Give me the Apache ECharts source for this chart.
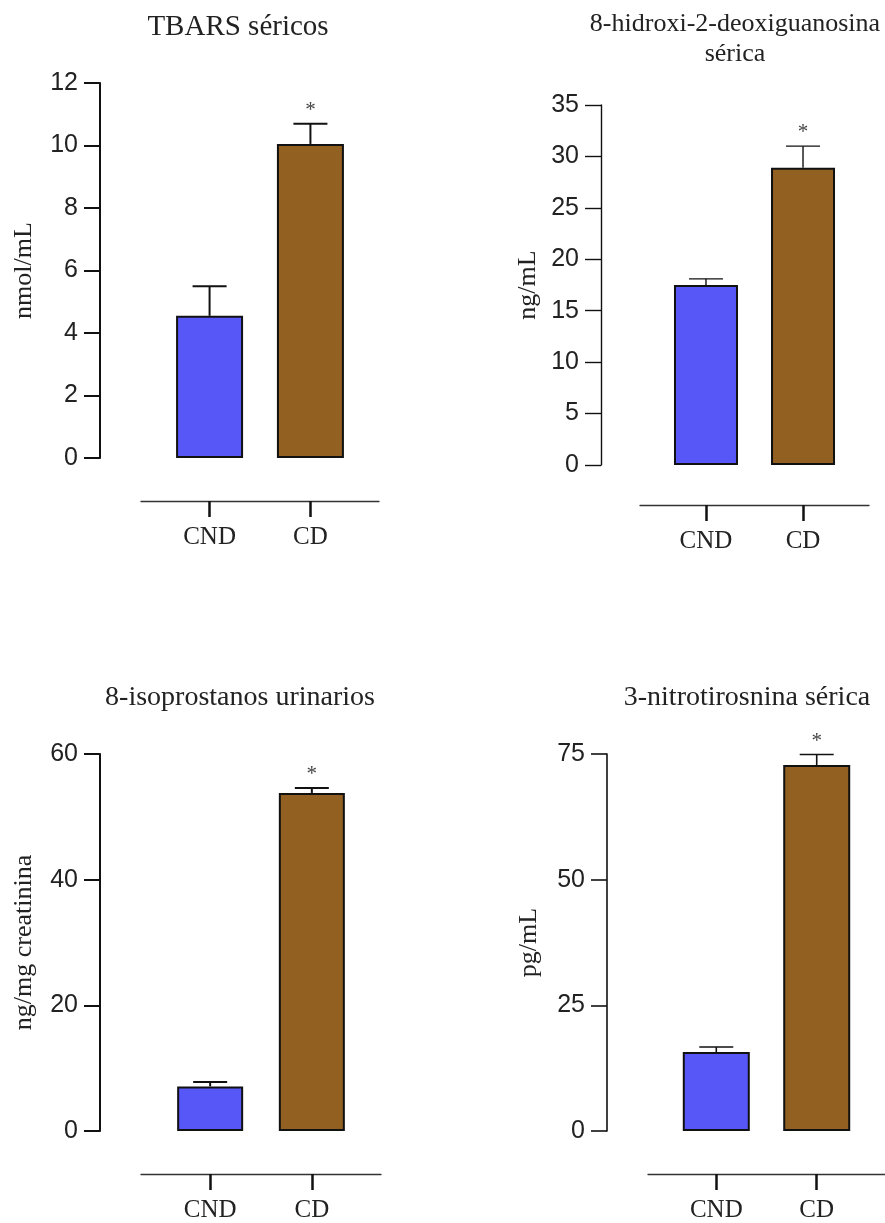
<!DOCTYPE html>
<html>
<head>
<meta charset="utf-8">
<title>Marcadores de estrés oxidativo</title>
<script src="https://cdn.jsdelivr.net/npm/echarts@6/dist/echarts.min.js"></script>
<style>
  html, body { margin: 0; padding: 0; background: #ffffff; }
  #chart { width: 885px; height: 1223px; }
</style>
</head>
<body>
<div id="chart"></div>
<script>
// Groups compared in every panel
const categories = ['CND', 'CD'];
const barColors = ['#5757F8', '#926020'];
// Which group carries the significance asterisk
const significant = [false, true];

// Serum TBARS (nmol/mL): mean and SEM
const tbarsMean = [4.55, 10.05];
const tbarsSem = [0.95, 0.65];

// Serum 8-hydroxy-2-deoxyguanosine (ng/mL)
const ohdgMean = [17.5, 28.9];
const ohdgSem = [0.6, 2.1];

// Urinary 8-isoprostanes (ng/mg creatinine)
const isoMean = [7.1, 53.8];
const isoSem = [0.7, 0.8];

// Serum 3-nitrotyrosine (pg/mL)
const ntyrMean = [15.7, 72.8];
const ntyrSem = [1.0, 2.1];

// Y-axis ranges: [max, interval]
const tbarsTicks = [12, 2];
const ohdgTicks = [35, 5];
const isoTicks = [60, 20];
const ntyrTicks = [75, 25];

const SERIF = '"Liberation Serif", "Times New Roman", serif';
const SANS = '"Liberation Sans", Arial, sans-serif';

const panels = [
  { title: 'TBARS séricos', titleSize: 29, titleX: 238, titleTop: 12,
    unit: 'nmol/mL', mean: tbarsMean, sem: tbarsSem, ticks: tbarsTicks,
    left: 141, top: 83, width: 238, height: 375, yOffset: 41, xOffset: 43,
    nameGap: 63, axisWidth: 2, barWidth: 67 },
  { title: '8-hidroxi-2-deoxiguanosina\nsérica', titleSize: 26, titleX: 735, titleTop: 9,
    unit: 'ng/mL', mean: ohdgMean, sem: ohdgSem, ticks: ohdgTicks,
    left: 640, top: 105, width: 229, height: 360, yOffset: 39, xOffset: 40,
    nameGap: 60, axisWidth: 1.4, barWidth: 64 },
  { title: '8-isoprostanos urinarios', titleSize: 28, titleX: 240, titleTop: 683,
    unit: 'ng/mg creatinina', mean: isoMean, sem: isoSem, ticks: isoTicks,
    left: 141, top: 754, width: 240, height: 378, yOffset: 41, xOffset: 43,
    nameGap: 63, axisWidth: 2, barWidth: 66 },
  { title: '3-nitrotirosnina sérica', titleSize: 28, titleX: 747, titleTop: 683,
    unit: 'pg/mL', mean: ntyrMean, sem: ntyrSem, ticks: ntyrTicks,
    left: 648, top: 754, width: 243, height: 378, yOffset: 41, xOffset: 43,
    nameGap: 65, axisWidth: 1.6, barWidth: 67 }
];

const option = {
  backgroundColor: '#ffffff',
  animation: false,
  title: [], grid: [], xAxis: [], yAxis: [], series: []
};

panels.forEach((p, i) => {
  option.title.push({
    text: p.title,
    left: p.titleX,
    top: p.titleTop,
    padding: 0,
    textAlign: 'center',
    textStyle: { fontFamily: SERIF, fontWeight: 'normal', fontSize: p.titleSize,
                 color: '#222', lineHeight: 30 }
  });

  option.grid.push({ left: p.left, top: p.top, width: p.width, height: p.height, containLabel: false });

  option.xAxis.push({
    gridIndex: i,
    type: 'value',
    min: -0.68,
    max: 1.68,
    offset: p.xOffset,
    axisLine: { show: true, onZero: false, lineStyle: { color: '#333', width: 1.3 } },
    axisTick: { show: true, customValues: [0, 1], length: 16, lineStyle: { color: '#111', width: 2.5 } },
    axisLabel: {
      customValues: [0, 1],
      formatter: v => categories[Math.round(v)],
      fontFamily: SERIF, fontSize: 25, color: '#222', margin: 24
    },
    splitLine: { show: false }
  });

  option.yAxis.push({
    gridIndex: i,
    type: 'value',
    min: 0,
    max: p.ticks[0],
    interval: p.ticks[1],
    offset: p.yOffset,
    name: p.unit,
    nameLocation: 'middle',
    nameGap: p.nameGap,
    nameTextStyle: { fontFamily: SERIF, fontSize: 26, color: '#222' },
    axisLine: { show: true, onZero: false, lineStyle: { color: '#111', width: p.axisWidth } },
    axisTick: { show: true, length: 16, lineStyle: { color: '#111', width: p.axisWidth } },
    axisLabel: { fontFamily: SANS, fontSize: 25, color: '#222', margin: 22 },
    splitLine: { show: false }
  });

  // Error bars (mean + SEM) with the significance mark above the cap
  option.series.push({
    type: 'custom',
    xAxisIndex: i,
    yAxisIndex: i,
    z: 2,
    data: p.mean.map((m, k) => [k, m, p.sem[k], significant[k] ? 1 : 0]),
    renderItem: (params, api) => {
      const x = api.value(0);
      const m = api.value(1);
      const e = api.value(2);
      const base = api.coord([x, m]);
      const top = api.coord([x, m + e]);
      const half = 17;
      const style = { stroke: '#111', lineWidth: p.axisWidth };
      const children = [
        { type: 'line', shape: { x1: base[0], y1: base[1], x2: top[0], y2: top[1] }, style },
        { type: 'line', shape: { x1: top[0] - half, y1: top[1], x2: top[0] + half, y2: top[1] }, style }
      ];
      if (api.value(3)) {
        children.push({
          type: 'text',
          style: { text: '*', x: top[0], y: top[1] - 3, align: 'center', verticalAlign: 'bottom',
                   font: '21px ' + SERIF, fill: '#444' }
        });
      }
      return { type: 'group', children };
    }
  });

  option.series.push({
    type: 'bar',
    xAxisIndex: i,
    yAxisIndex: i,
    z: 3,
    barWidth: p.barWidth,
    itemStyle: { borderColor: '#111', borderWidth: 2 },
    data: p.mean.map((m, k) => ({ value: [k, m], itemStyle: { color: barColors[k] } }))
  });
});

const chart = echarts.init(document.getElementById('chart'), null, { renderer: 'canvas' });
chart.setOption(option);
</script>
</body>
</html>
